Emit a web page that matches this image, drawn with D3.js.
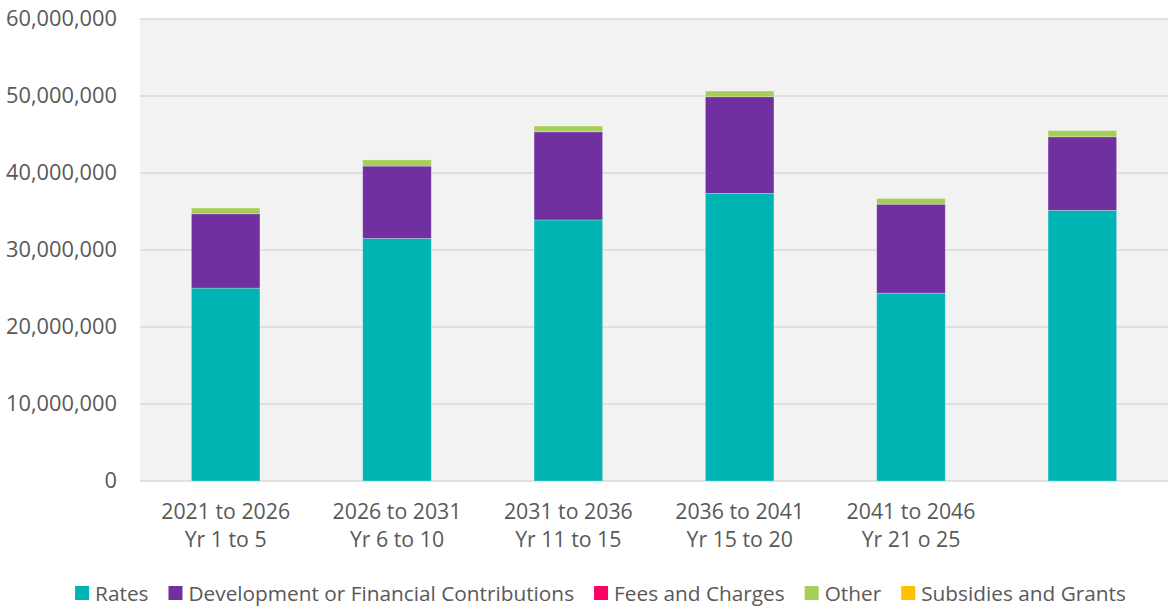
<!DOCTYPE html>
<html>
<head>
<meta charset="utf-8">
<script src="https://cdn.jsdelivr.net/npm/d3@7"></script>
<style>
  html, body { margin: 0; padding: 0; background: #ffffff; }
  svg { display: block; font-family: "Open Sans", Lato, sans-serif; }
</style>
</head>
<body>
<svg id="chart" width="1168" height="608"></svg>
<script>
// Funding sources by five-year period
const periods = ["2021 to 2026|Yr 1 to 5", "2026 to 2031|Yr 6 to 10", "2031 to 2036|Yr 11 to 15",
                 "2036 to 2041|Yr 15 to 20", "2041 to 2046|Yr 21 o 25", ""];
const seriesNames = ["Rates", "Development or Financial Contributions", "Fees and Charges", "Other", "Subsidies and Grants"];
const rates        = [25050000, 31500000, 33900000, 37350000, 24400000, 35150000];
const development  = [9650000, 9400000, 11450000, 12550000, 11550000, 9550000];
const feesCharges  = [0, 0, 0, 0, 0, 0];
const other        = [750000, 800000, 750000, 750000, 750000, 800000];
const subsidies    = [0, 0, 0, 0, 0, 0];
const yTicks       = [0, 10000000, 20000000, 30000000, 40000000, 50000000, 60000000];
const colors       = ["#00b4b3", "#7030a0", "#ff0066", "#a5cf56", "#ffc000"];

const svg = d3.select("#chart");
const margin = { left: 140, right: 0, top: 19, bottom: 127 };
const W = 1168, H = 608;
const textColor = "#595959";

const rows = periods.map((p, i) => ({
  key: "p" + i, label: p,
  [seriesNames[0]]: rates[i], [seriesNames[1]]: development[i], [seriesNames[2]]: feesCharges[i],
  [seriesNames[3]]: other[i], [seriesNames[4]]: subsidies[i]
}));

const x = d3.scaleBand().domain(rows.map(d => d.key))
  .range([margin.left, W - margin.right]).paddingInner(0.6).paddingOuter(0.3);
const y = d3.scaleLinear().domain([0, 60000000]).range([H - margin.bottom, margin.top]);

// plot background
svg.append("rect").attr("x", margin.left).attr("y", margin.top)
  .attr("width", W - margin.left - margin.right).attr("height", y(0) - margin.top)
  .attr("fill", "#f2f2f2");

// gridlines
svg.append("g").selectAll("line").data(yTicks).join("line")
  .attr("x1", margin.left).attr("x2", W - margin.right)
  .attr("y1", d => y(d)).attr("y2", d => y(d))
  .attr("stroke", "#d9d9d9").attr("stroke-width", 1.5);

// y axis labels
const yAxis = d3.axisLeft(y).tickValues(yTicks).tickSize(0).tickPadding(0)
  .tickFormat(d3.format(","));
const gy = svg.append("g").attr("transform", `translate(${117},0)`).call(yAxis);
gy.select(".domain").remove();
gy.selectAll("text").attr("font-size", 21.8).attr("fill", textColor)
  .attr("font-family", "'Open Sans', Lato, sans-serif");

// stacked bars
const stack = d3.stack().keys(seriesNames);
const layers = stack(rows);
svg.append("g").selectAll("g").data(layers).join("g")
  .attr("fill", (d, i) => colors[i])
  .selectAll("rect").data(d => d.filter(s => s[1] - s[0] > 0)).join("rect")
  .attr("x", d => x(d.data.key))
  .attr("width", x.bandwidth())
  .attr("y", d => y(d[1]))
  .attr("height", d => y(d[0]) - y(d[1]))
  .attr("stroke", "rgba(255,255,255,0.35)").attr("stroke-width", 0.75);

// x axis labels (two lines)
const gx = svg.append("g");
rows.forEach(r => {
  if (!r.label) return;
  const lines = r.label.split("|");
  const cx = x(r.key) + x.bandwidth() / 2;
  const t = gx.append("text").attr("text-anchor", "middle")
    .attr("font-size", 21.3).attr("fill", textColor);
  lines.forEach((ln, j) => t.append("tspan").attr("x", cx)
    .attr("y", 519 + j * 28).text(ln));
});

// legend
const legend = svg.append("g");
let lx = 0;
seriesNames.forEach((name, i) => {
  const g = legend.append("g");
  g.append("rect").attr("x", 0).attr("y", -7).attr("width", 14).attr("height", 14).attr("fill", colors[i]);
  const t = g.append("text").attr("x", 20).attr("y", 7.5).attr("font-size", 20.8)
    .attr("fill", textColor).text(name);
  const w = 20 + t.node().getComputedTextLength();
  g.attr("transform", `translate(${lx},593)`);
  lx += w + 20;
});
const total = lx - 20;
legend.attr("transform", `translate(${600.5 - total / 2},0)`);
</script>
</body>
</html>
